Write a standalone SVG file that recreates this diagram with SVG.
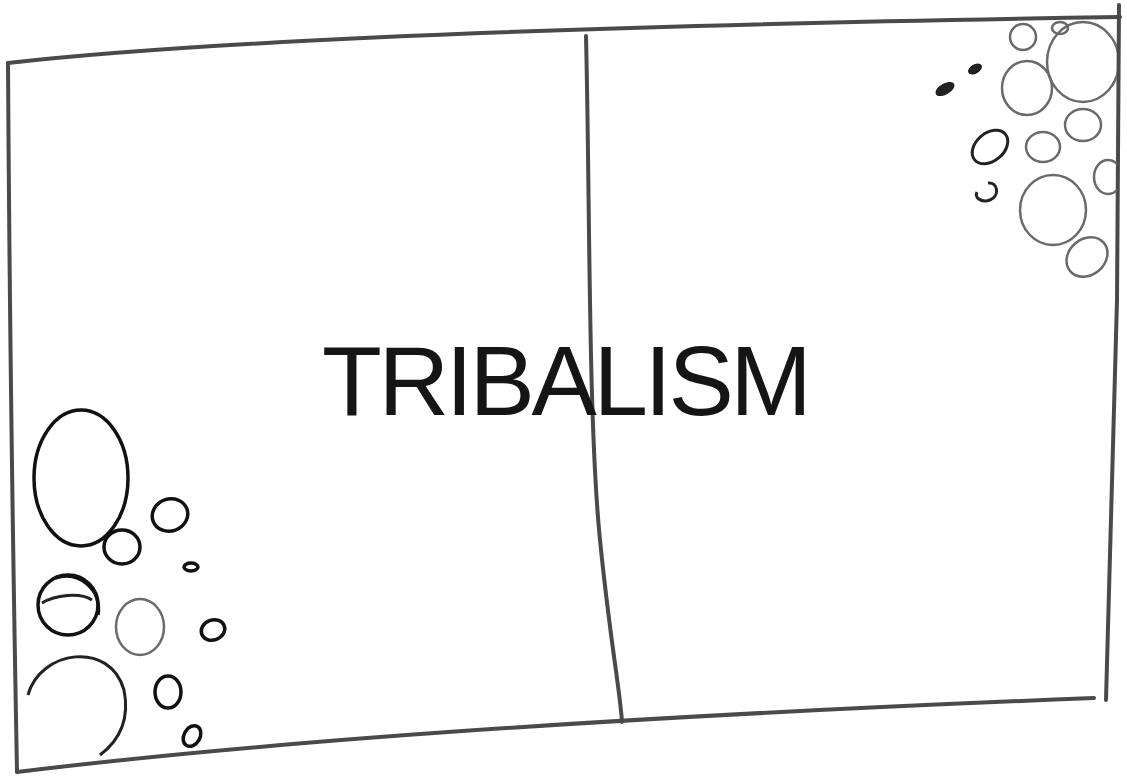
<svg xmlns="http://www.w3.org/2000/svg" width="1127" height="779" viewBox="0 0 1127 779">
<style>
.frame{fill:none;stroke:#4a4a4a;stroke-width:4;stroke-linecap:round;stroke-linejoin:round}
.dk{fill:none;stroke:#111;stroke-width:3.5}
.md{fill:none;stroke:#222;stroke-width:3}
.gr{fill:none;stroke:#6a6a6a;stroke-width:2.5}
.fill{fill:#222;stroke:#111;stroke-width:1}
.label{font-family:"Liberation Sans",Arial,sans-serif;font-size:98px;fill:#151515}
</style>
<rect width="1127" height="779" fill="#fff"/>
<g id="frame">
<path class="frame" d="M8,63 Q300,30 1120,17"/>
<path class="frame" d="M1119,5 L1117,300 L1106,700"/>
<path class="frame" d="M8,63 Q10,400 17,772"/>
<path class="frame" d="M17,772 Q400,725 1094,698"/>
<path class="frame" d="M586,36 C590,200 588,420 600,540 C610,640 620,690 622,722"/>
</g>
<g id="title">
<text class="label" x="322" y="415" textLength="490" lengthAdjust="spacing">TRIBALISM</text>
</g>
<g id="cluster-top-right">
<clipPath id="cr"><path d="M900,19 L1117,17 L1117,300 L900,300 Z"/></clipPath>
<g clip-path="url(#cr)">
<ellipse class="gr" cx="1023" cy="37" rx="13" ry="13"/>
<ellipse class="gr" cx="1060" cy="28" rx="8" ry="6"/>
<ellipse class="gr" cx="1083" cy="62" rx="36" ry="40"/>
<ellipse class="gr" cx="1027" cy="88" rx="25" ry="27"/>
<ellipse class="gr" cx="1083" cy="125" rx="18" ry="16"/>
<ellipse class="gr" cx="1043" cy="147" rx="17" ry="15"/>
<ellipse class="gr" cx="1108" cy="177" rx="14" ry="17"/>
<ellipse class="gr" cx="1053" cy="210" rx="33" ry="35"/>
<ellipse class="gr" cx="1087" cy="257" rx="22" ry="18" transform="rotate(-40 1087 257)"/>
</g>
<ellipse class="fill" cx="975" cy="69" rx="7" ry="4" transform="rotate(-30 975 69)"/>
<ellipse class="fill" cx="945" cy="89" rx="10" ry="5" transform="rotate(-30 945 89)"/>
<ellipse class="md" cx="990" cy="147" rx="20" ry="14" transform="rotate(-40 990 147)"/>
<path class="md" d="M988,183 C998,182 1000,196 990,200 C982,203 974,198 977,192"/>
</g>
<g id="cluster-bottom-left">
<ellipse class="dk" cx="81" cy="478" rx="47" ry="68"/>
<ellipse class="dk" cx="122" cy="547" rx="18" ry="17"/>
<ellipse class="dk" cx="170" cy="515" rx="18" ry="16" transform="rotate(-20 170 515)"/>
<ellipse class="dk" cx="191" cy="567" rx="7" ry="4"/>
<ellipse class="dk" cx="68" cy="605" rx="30" ry="30"/>
<path class="dk" d="M55,578 C80,570 102,590 98,615"/>
<path class="md" d="M42,603 C55,595 80,592 92,600"/>
<ellipse class="gr" cx="140" cy="627" rx="24" ry="28"/>
<ellipse class="dk" cx="213" cy="630" rx="12" ry="10" transform="rotate(-20 213 630)"/>
<path class="md" d="M28,695 C40,650 110,640 124,690 C130,720 120,740 100,755"/>
<ellipse class="dk" cx="168" cy="692" rx="13" ry="16"/>
<ellipse class="dk" cx="192" cy="736" rx="8" ry="11" transform="rotate(30 192 736)"/>
</g>
</svg>
